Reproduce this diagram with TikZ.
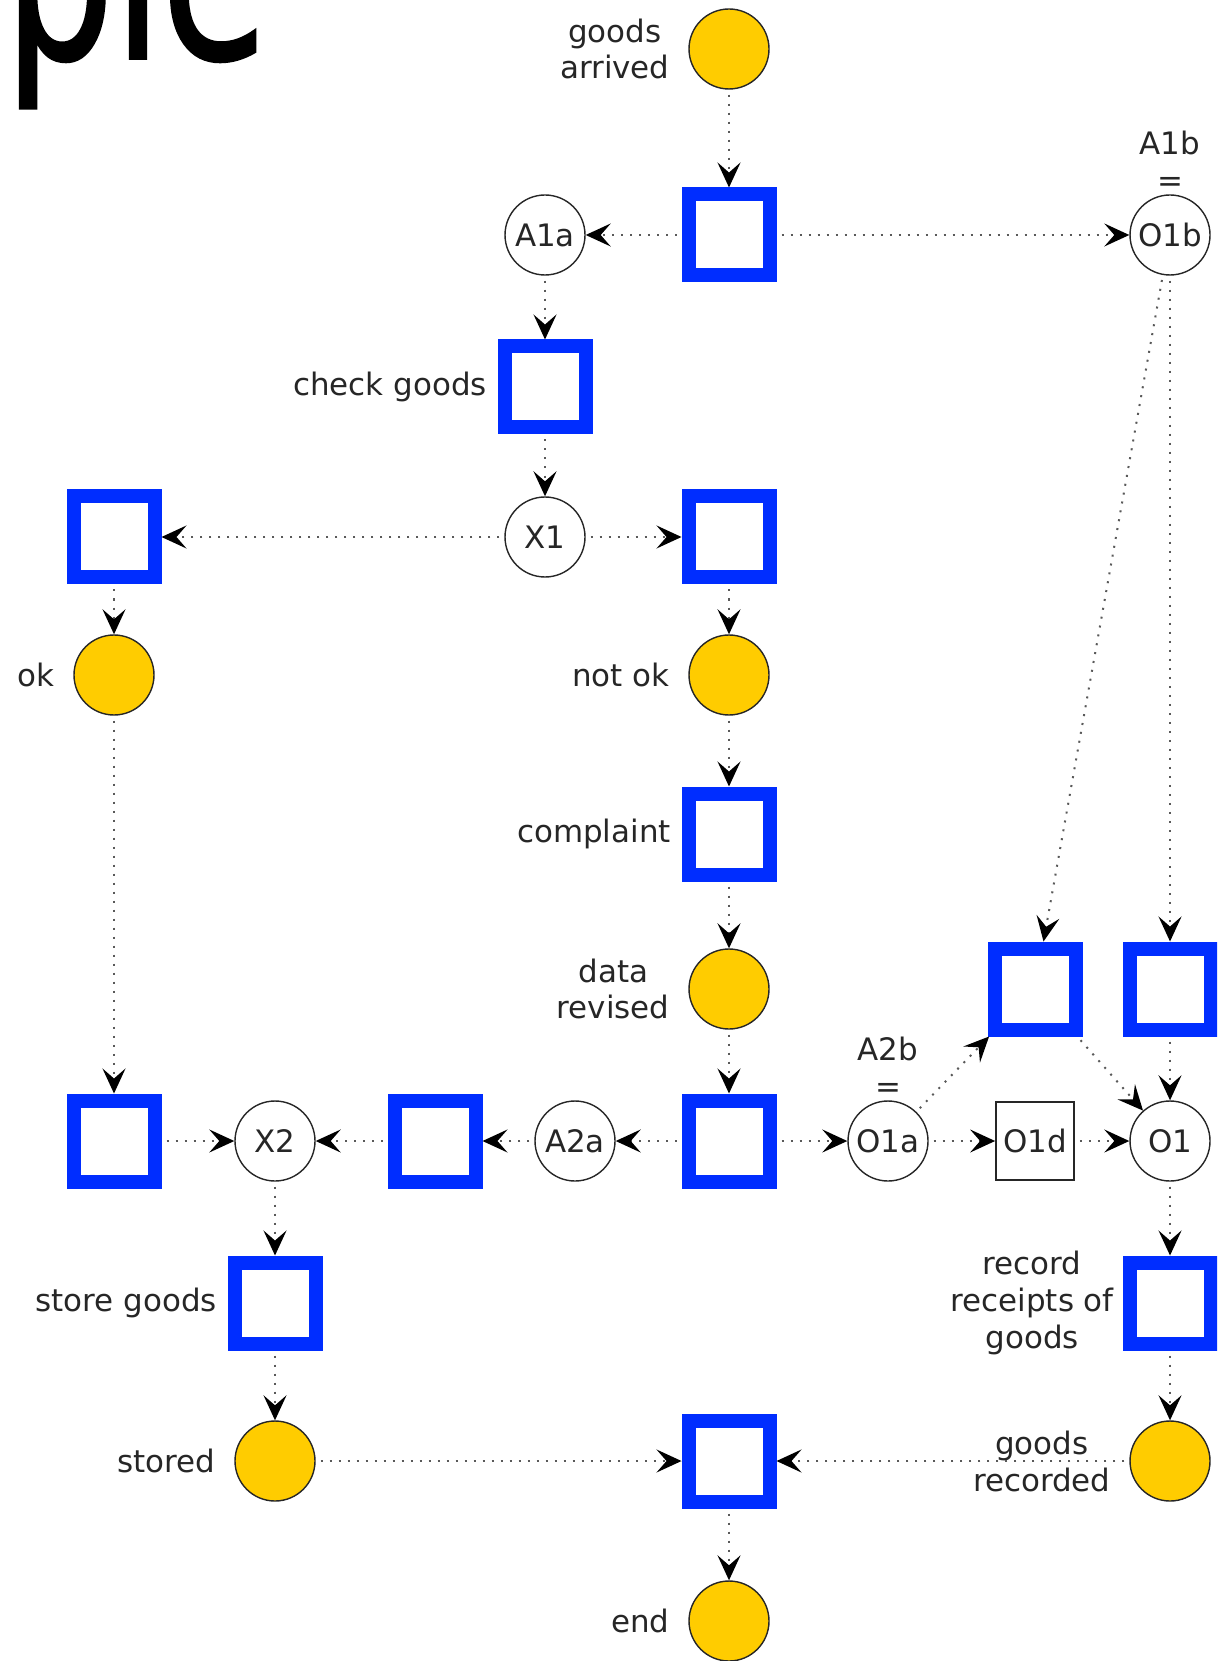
\documentclass[tikz,border=0pt]{standalone}
\usepackage{fontspec}
\setmainfont{DejaVu Sans}
\newfontfamily\titlefont[FakeBold=1.6]{DejaVu Sans}
\usepackage{tikz}
\usetikzlibrary{arrows.meta,positioning}
\definecolor{placeyellow}{RGB}{255,204,0}
\definecolor{transblue}{RGB}{0,45,255}
\newcommand{\lblfont}{\fontsize{8.8pt}{10.5pt}\selectfont}

\begin{document}
\begin{tikzpicture}[x=1cm,y=1cm]
  \tikzset{
    place/.style={circle, draw=black!85, line width=0.4pt, fill=placeyellow, minimum size=0.80cm, inner sep=0pt},
    cond/.style={circle, draw=black!85, line width=0.4pt, fill=white, minimum size=0.80cm, inner sep=0pt, font=\lblfont, text=black!85},
    trans/.style={draw=transblue, line width=0.14cm, fill=white, minimum size=0.81cm, inner sep=0pt},
    plainbox/.style={draw=black!85, line width=0.5pt, minimum size=0.78cm, inner sep=0pt, font=\lblfont, text=black!85},
    lbl/.style={font=\lblfont, text=black!85, align=center, inner sep=0pt},
    flow/.style={-{Stealth[length=0.25cm, width=0.23cm, inset=0.1cm, color=black]}, black!65, line width=0.02cm, dash pattern=on 0.02cm off 0.07cm, shorten <=0.05cm}
  }

  % page frame
  \useasboundingbox (0,0) rectangle (12.17,-16.61);
  \clip (0,0) rectangle (12.17,-16.61);

  % columns and rows
  \def\xA{1.14}\def\xB{2.75}\def\xC{4.35}\def\xD{5.45}\def\xDa{5.75}
  \def\xE{7.29}\def\xF{8.88}\def\xG{10.35}\def\xH{11.70}
  \def\yA{-0.49}\def\yB{-2.35}\def\yC{-3.87}\def\yD{-5.37}\def\yE{-6.75}\def\yF{-8.34}
  \def\yG{-9.89}\def\yH{-11.41}\def\yI{-13.03}\def\yJ{-14.61}\def\yK{-16.21}

  % cut-off title
  \node[anchor=base west, inner sep=0pt, font=\titlefont\fontsize{68pt}{68pt}\selectfont] (title) at (0.04,-0.58) {\scalebox{0.72}[1]{ple}};

  % ================= UPPER PART =================
  \node[place] (pArr) at (\xE,\yA) {};
  \node[lbl, left=0.18cm of pArr] (lArr) {goods\\arrived};
  \node[trans] (tStart) at (\xE,\yB) {};
  \node[cond] (a1a) at (\xD,\yB) {A1a};
  \node[cond] (o1b) at (\xH,\yB) {O1b};
  \node[lbl, above=0.02cm of o1b] (lA1b) {A1b\\=};

  \node[trans] (tCheck) at (\xD,\yC) {};
  \node[lbl, left=0.1cm of tCheck] (lCheck) {check goods};
  \node[cond] (x1) at (\xD,\yD) {X1};
  \node[trans] (tOk) at (\xA,\yD) {};
  \node[trans] (tNok) at (\xE,\yD) {};

  \node[place] (pOk) at (\xA,\yE) {};
  \node[lbl, left=0.18cm of pOk] (lOk) {ok};
  \node[place] (pNok) at (\xE,\yE) {};
  \node[lbl, left=0.18cm of pNok] (lNok) {not ok};
  \node[trans] (tCompl) at (\xE,\yF) {};
  \node[lbl, left=0.1cm of tCompl] (lCompl) {complaint};
  \node[place] (pData) at (\xE,\yG) {};
  \node[lbl, left=0.18cm of pData] (lData) {data\\revised};
  \node[trans] (tO1a) at (\xG,\yG) {};
  \node[trans] (tO1b) at (\xH,\yG) {};

  % ================= LOWER PART =================
  \node[trans] (tRev) at (\xE,\yH) {};
  \node[cond] (a2a) at (\xDa,\yH) {A2a};
  \node[trans] (tA2a) at (\xC,\yH) {};
  \node[cond] (x2) at (\xB,\yH) {X2};
  \node[trans] (tOkIn) at (\xA,\yH) {};
  \node[cond] (o1a) at (\xF,\yH) {O1a};
  \node[lbl, above=0.02cm of o1a] (lA2b) {A2b\\=};
  \node[plainbox] (o1d) at (\xG,\yH) {O1d};
  \node[cond] (o1) at (\xH,\yH) {O1};

  \node[trans] (tStore) at (\xB,\yI) {};
  \node[lbl, left=0.1cm of tStore] (lStore) {store goods};
  \node[trans] (tRec) at (\xH,\yI) {};
  \node[lbl, left=0.08cm of tRec] (lRec) {record\\receipts of\\goods};
  \node[place] (pStored) at (\xB,\yJ) {};
  \node[lbl, left=0.18cm of pStored] (lStored) {stored};
  \node[trans] (tEnd) at (\xE,\yJ) {};
  \node[place] (pRec) at (\xH,\yJ) {};
  \node[lbl, left=0.18cm of pRec] (lPRec) {goods\\recorded};
  \node[place] (pEnd) at (\xE,\yK) {};
  \node[lbl, left=0.18cm of pEnd] (lEnd) {end};

  % ================= FLOWS =================
  \draw[flow] (pArr) -- (tStart);
  \draw[flow] (tStart) -- (a1a);
  \draw[flow] (tStart) -- (o1b);
  \draw[flow] (a1a) -- (tCheck);
  \draw[flow] (tCheck) -- (x1);
  \draw[flow] (x1) -- (tOk);
  \draw[flow] (x1) -- (tNok);
  \draw[flow] (tOk) -- (pOk);
  \draw[flow] (tNok) -- (pNok);
  \draw[flow] (pNok) -- (tCompl);
  \draw[flow] (tCompl) -- (pData);
  \draw[flow] (pData) -- (tRev);
  \draw[flow] (pOk) -- (tOkIn);
  \draw[flow] (o1b) -- (tO1a);
  \draw[flow] (o1b) -- (tO1b);

  \draw[flow] (tRev) -- (a2a);
  \draw[flow] (a2a) -- (tA2a);
  \draw[flow] (tA2a) -- (x2);
  \draw[flow] (tOkIn) -- (x2);
  \draw[flow] (tRev) -- (o1a);
  \draw[flow] (o1a) -- (tO1a);
  \draw[flow] (o1a) -- (o1d);
  \draw[flow] (o1d) -- (o1);
  \draw[flow] (tO1a) -- (o1);
  \draw[flow] (tO1b) -- (o1);

  \draw[flow] (x2) -- (tStore);
  \draw[flow] (tStore) -- (pStored);
  \draw[flow] (pStored) -- (tEnd);
  \draw[flow] (o1) -- (tRec);
  \draw[flow] (tRec) -- (pRec);
  \draw[flow] (pRec) -- (tEnd);
  \draw[flow] (tEnd) -- (pEnd);

\end{tikzpicture}
\end{document}
